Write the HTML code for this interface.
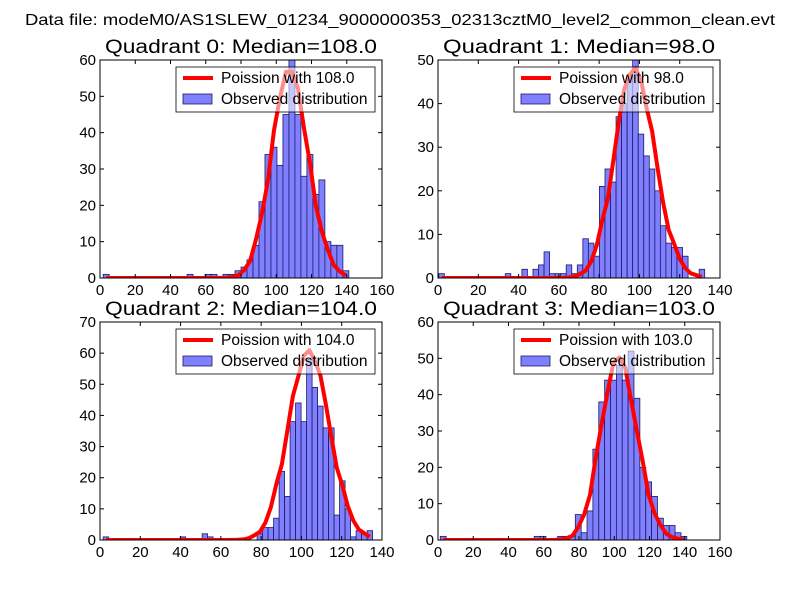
<!DOCTYPE html>
<html><head><meta charset="utf-8"><style>
html,body{margin:0;padding:0;background:#fff}
svg{display:block;font-family:"Liberation Sans","DejaVu Sans",sans-serif}
</style></head><body>
<svg id="fig" width="800" height="600" viewBox="0 0 800 600">
<text x="400" y="25" text-anchor="middle" font-size="16" textLength="750" lengthAdjust="spacingAndGlyphs">Data file: modeM0/AS1SLEW_01234_9000000353_02313cztM0_level2_common_clean.evt</text>
</svg>
<script>
// Quadrant 0 data
const q0Counts=[1,0,0,0,0,0,0,0,0,0,0,0,0,0,1,0,0,1,1,0,1,1,2,3,5,9,21,34,36,31,45,60,45,28,34,23,27,10,9,9,2];
const q0Start=1.8, q0Width=3.4, q0Median=108, q0CurveScale=1.0, q0XTicks=[0,20,40,60,80,100,120,140,160], q0YTicks=[0,10,20,30,40,50,60];
// Quadrant 1 data
const q1Counts=[1,0,0,0,0,0,0,0,0,0,0,0,1,0,0,2,0,2,3,6,1,1,1,3,1,3,9,8,5,21,25,22,37,40,46,50,33,28,25,20,12,8,7,7,5,0,0,2];
const q1Start=0.4, q1Width=2.75, q1Median=98, q1CurveScale=1.0, q1XTicks=[0,20,40,60,80,100,120,140], q1YTicks=[0,10,20,30,40,50];
// Quadrant 2 data
const q2Counts=[1,0,0,0,0,0,0,0,0,0,0,0,0,0,1,0,0,0,2,1,0,0,0,0,0,0,0,0,2,4,4,7,22,14,38,44,38,58,49,43,36,36,8,19,10,1,3,2,3];
const q2Start=1.56, q2Width=2.73, q2Median=104, q2CurveScale=1.28, q2XTicks=[0,20,40,60,80,100,120,140], q2YTicks=[0,10,20,30,40,50,60,70];
// Quadrant 3 data
const q3Counts=[1,0,0,0,0,0,0,0,0,0,0,0,0,0,0,0,1,1,0,0,1,1,1,7,2,8,25,38,44,44,48,44,52,39,20,16,12,6,4,4,2,1];
const q3Start=1.31, q3Width=3.33, q3Median=103, q3CurveScale=0.91, q3XTicks=[0,20,40,60,80,100,120,140,160], q3YTicks=[0,10,20,30,40,50,60];

const NS="http://www.w3.org/2000/svg";
const fig=document.getElementById('fig');
function mk(tag,attrs,parent){const e=document.createElementNS(NS,tag);for(const k in attrs)e.setAttribute(k,attrs[k]);(parent||fig).appendChild(e);return e;}
function lgam(z){const g=[76.18009172947146,-86.50532032941677,24.01409824083091,-1.231739572450155,0.1208650973866179e-2,-0.5395239384953e-5];let x=z,y=z,t=x+5.5;t-=(x+0.5)*Math.log(t);let s=1.000000000190015;for(let j=0;j<6;j++)s+=g[j]/++y;return -t+Math.log(2.5066282746310005*s/x);}
function pois(k,mu){return Math.exp(k*Math.log(mu)-mu-lgam(k+1));}

function quadrant(idx,counts,start,width,median,cscale,xt,yt,L,T){
  const W=282,H=218,R=L+W,B=T+H;
  const xmax=xt[xt.length-1], ymax=yt[yt.length-1];
  const sx=v=>L+v/xmax*W, sy=v=>B-v/ymax*H;
  const g=mk('g',{});
  
  
  const bars=mk('g',{},g);
  
  
  counts.forEach((c,i)=>{
    if(c<=0)return;
    const x0=start+i*width;
    const r=mk('rect',{x:sx(x0),y:sy(c),width:sx(x0+width)-sx(x0),height:sy(0)-sy(c),fill:'#8080ff',stroke:'#1a1a66','stroke-width':0.8},bars);
    
    
  });
  const total=counts.reduce((a,b)=>a+b,0);
  let pts=[];
  counts.forEach((c,i)=>{const k=Math.round(start+(i+0.5)*width);pts.push(sx(start+(i+0.5)*width).toFixed(1)+','+sy(cscale*total*width*pois(k,median)).toFixed(1));});
  const cp=mk('clipPath',{id:'clip'+idx},g);mk('rect',{x:L,y:T,width:W,height:H},cp);
  const pl=mk('polyline',{points:pts.join(' '),fill:'none',stroke:'#ff0000','stroke-width':4,'stroke-linejoin':'round','clip-path':'url(#clip'+idx+')'},g);
  
  
  const fr=mk('rect',{x:L,y:T,width:W,height:H,fill:'none',stroke:'#000','stroke-width':1},g);
  
  
  xt.forEach(v=>{const x=sx(v);
    mk('line',{x1:x,y1:B,x2:x,y2:B-4,stroke:'#000'},g);mk('line',{x1:x,y1:T,x2:x,y2:T+4,stroke:'#000'},g);
    const t=mk('text',{x:x,y:B+17,'text-anchor':'middle','font-size':15},g);t.textContent=v;
    
    
  });
  yt.forEach(v=>{const y=sy(v);
    mk('line',{x1:L,y1:y,x2:L+4,y2:y,stroke:'#000'},g);mk('line',{x1:R,y1:y,x2:R-4,y2:y,stroke:'#000'},g);
    const t=mk('text',{x:L-4,y:y+5,'text-anchor':'end','font-size':15},g);t.textContent=v;
    
    
  });
  const ti=mk('text',{x:(L+R)/2,y:T-7,'text-anchor':'middle','font-size':19,textLength:272,lengthAdjust:'spacingAndGlyphs'},g);
  ti.textContent='Quadrant '+idx+': Median='+median.toFixed(1);
  
  
  const lg=mk('g',{},g);
  
  
  const lx=R-206, ly=T+7;
  mk('rect',{x:lx,y:ly,width:199,height:45,fill:'#fff','fill-opacity':0.55,stroke:'#000','stroke-width':0.8},lg);
  mk('line',{x1:lx+7,y1:ly+11,x2:lx+37,y2:ly+11,stroke:'#ff0000','stroke-width':4},lg);
  const t1=mk('text',{x:lx+45,y:ly+16,'font-size':15.5},lg);t1.textContent='Poission with '+median.toFixed(1);
  
  
  mk('rect',{x:lx+7,y:ly+27,width:29,height:10,fill:'#8080ff',stroke:'#1a1a66','stroke-width':0.8},lg);
  const t2=mk('text',{x:lx+45,y:ly+37,'font-size':15.5},lg);t2.textContent='Observed distribution';
  
  
}
quadrant(0,q0Counts,q0Start,q0Width,q0Median,q0CurveScale,q0XTicks,q0YTicks,100,60);
quadrant(1,q1Counts,q1Start,q1Width,q1Median,q1CurveScale,q1XTicks,q1YTicks,438,60);
quadrant(2,q2Counts,q2Start,q2Width,q2Median,q2CurveScale,q2XTicks,q2YTicks,100,322);
quadrant(3,q3Counts,q3Start,q3Width,q3Median,q3CurveScale,q3XTicks,q3YTicks,438,322);
</script>
</body></html>
